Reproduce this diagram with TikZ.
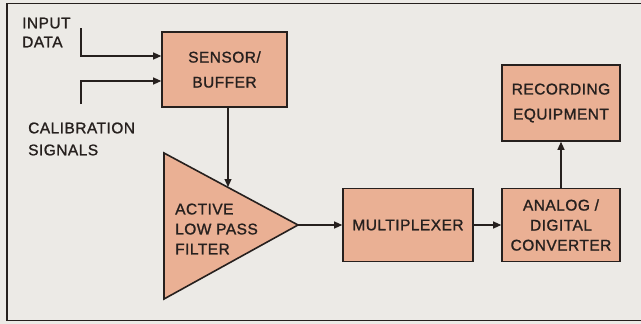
\documentclass[tikz,border=0pt]{standalone}
\usepackage{fontspec}
\setmainfont{Liberation Sans}
\newfontfamily\letfont{Liberation Sans}[FakeBold=1.2, LetterSpace=3]
\usetikzlibrary{arrows.meta}
\definecolor{paper}{RGB}{236,234,230}
\definecolor{salmon}{RGB}{234,176,148}
\definecolor{ink}{RGB}{38,32,30}

\begin{document}
\begin{tikzpicture}[x=1pt, y=-1pt, ink,
    block/.style={draw=ink, fill=salmon, line width=1.6pt, align=center, inner sep=0pt,
      font=\letfont\fontsize{15.5}{20}\selectfont},
    lbl/.style={align=left, inner sep=0pt, font=\letfont\fontsize{15.5}{20}\selectfont},
    flow/.style={-{Triangle[length=8pt,width=7pt]}, line width=1.2pt}]
    % paper and open frame
    \fill[paper] (0,0) rectangle (641,324);
    \useasboundingbox (0,0) rectangle (641,324);
    \draw[line width=1.3pt] (641,3.5) -- (7,3.5) -- (7,320.5) -- (641,320.5);

    % blocks
    \node[block, minimum width=125pt, minimum height=75pt,
      font=\letfont\fontsize{15.5}{25}\selectfont] (sensor) at (224.5,69.5) {SENSOR/\\BUFFER};
    \node[block, minimum width=130pt, minimum height=73pt] (mux) at (408,225) {MULTIPLEXER};
    \node[block, minimum width=118pt, minimum height=73pt] (adc) at (561,225) {ANALOG /\\DIGITAL\\CONVERTER};
    \node[block, minimum width=118pt, minimum height=76pt,
      font=\letfont\fontsize{15.5}{25}\selectfont] (rec) at (561,103) {RECORDING\\EQUIPMENT};

    % filter triangle
    \coordinate (ftop) at (164,153);
    \coordinate (fbot) at (164,299);
    \coordinate (ftip) at (298,225);
    \draw[fill=salmon, line width=1.6pt, line join=miter] (ftop) -- (ftip) -- (fbot) -- cycle;
    \node[lbl, anchor=west] (filter) at (175,229) {ACTIVE\\LOW PASS\\FILTER};
    \coordinate (fin) at (228,187);

    % inputs
    \node[lbl, anchor=west, font=\letfont\fontsize{15.5}{19}\selectfont] (indata) at (22,32.5) {INPUT\\DATA};
    \node[lbl, anchor=west, font=\letfont\fontsize{15.5}{22}\selectfont] (calsig) at (28,139) {CALIBRATION\\SIGNALS};
    \coordinate (inA) at (81,28);
    \coordinate (inT) at (81,56);
    \coordinate (calA) at (81,104);
    \coordinate (calT) at (81,81);

    % connectors
    \draw[flow] (inA) -- (inT) -- (inT -| sensor.west);
    \draw[flow] (calA) -- (calT) -- (calT -| sensor.west);
    \draw[flow] (sensor.south -| fin) -- (fin);
    \draw[flow] (ftip) -- (mux.west);
    \draw[flow] (mux.east) -- (adc.west);
    \draw[flow] (adc.north) -- (rec.south);
\end{tikzpicture}
\end{document}
